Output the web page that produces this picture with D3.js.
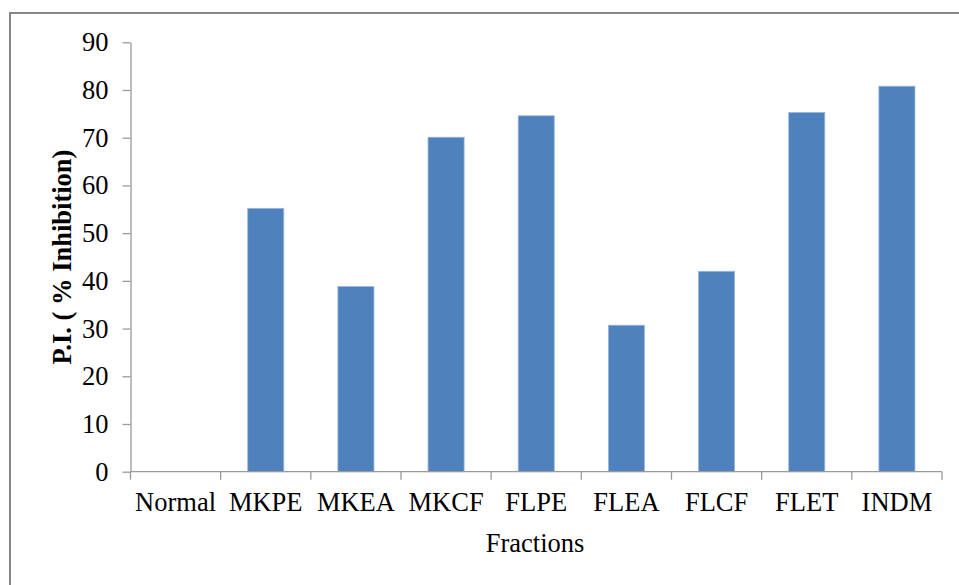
<!DOCTYPE html>
<html>
<head>
<meta charset="utf-8">
<script src="https://cdn.jsdelivr.net/npm/d3@7/dist/d3.min.js"></script>
<style>
  html, body { margin: 0; padding: 0; background: #fff; }
  svg { display: block; }
</style>
</head>
<body>
<script>
// Percentage inhibition by extract fraction
const categories = ["Normal", "MKPE", "MKEA", "MKCF", "FLPE", "FLEA", "FLCF", "FLET", "INDM"];
const inhibition = [0, 55.2, 38.8, 70.1, 74.6, 30.7, 42.0, 75.3, 80.8];
const yTicks = [0, 10, 20, 30, 40, 50, 60, 70, 80, 90];

const W = 959, H = 585;
const margin = { left: 130.5, right: 17, top: 42.3, bottom: 113.3 };

const svg = d3.select("body").append("svg")
  .attr("width", W).attr("height", H);

// outer frame
svg.append("rect")
  .attr("x", 10).attr("y", 13)
  .attr("width", W + 10).attr("height", H + 10)
  .attr("fill", "none").attr("stroke", "#868686").attr("stroke-width", 2);

const x = d3.scaleBand()
  .domain(categories)
  .range([margin.left, W - margin.right])
  .paddingInner(0.6).paddingOuter(0.3);

const y = d3.scaleLinear()
  .domain([0, 90])
  .range([H - margin.bottom, margin.top]);

const font = "'Liberation Serif', 'Times New Roman', serif";
const axisColor = "#9a9a9a";

// bars
svg.append("g").selectAll("rect")
  .data(categories.map((c, i) => ({ c, v: inhibition[i] })).filter(d => d.v > 0))
  .join("rect")
  .attr("x", d => x(d.c))
  .attr("y", d => y(d.v))
  .attr("width", x.bandwidth())
  .attr("height", d => y(0) - y(d.v))
  .attr("fill", "#4F81BD")
  .attr("stroke", "#9DB7DA")
  .attr("stroke-width", 0.8);

// y axis
const yAxis = svg.append("g")
  .attr("transform", `translate(${margin.left},0)`)
  .call(d3.axisLeft(y).tickValues(yTicks).tickSize(8).tickPadding(14).tickSizeOuter(0));
yAxis.select(".domain").attr("stroke", axisColor).attr("stroke-width", 1.3);
yAxis.selectAll(".tick line").attr("stroke", axisColor).attr("stroke-width", 1.3);
yAxis.selectAll(".tick text")
  .attr("font-family", font).attr("font-size", 26.5).attr("fill", "#000");

// x axis: baseline with ticks at band boundaries
const baseY = y(0);
const xg = svg.append("g");
xg.append("line")
  .attr("x1", margin.left).attr("x2", W - margin.right)
  .attr("y1", baseY).attr("y2", baseY)
  .attr("stroke", axisColor).attr("stroke-width", 1.3);
const bounds = d3.range(categories.length + 1).map(i => margin.left + i * (W - margin.right - margin.left) / categories.length);
xg.selectAll("line.tk").data(bounds).join("line")
  .attr("class", "tk")
  .attr("x1", d => d).attr("x2", d => d)
  .attr("y1", baseY).attr("y2", baseY + 8)
  .attr("stroke", axisColor).attr("stroke-width", 1.3);
xg.selectAll("text").data(categories).join("text")
  .attr("x", d => x(d) + x.bandwidth() / 2)
  .attr("y", 511)
  .attr("text-anchor", "middle")
  .attr("font-family", font).attr("font-size", 26.5)
  .text(d => d);

// axis titles
svg.append("text")
  .attr("x", 535).attr("y", 551.5)
  .attr("text-anchor", "middle")
  .attr("font-family", font).attr("font-size", 26.5)
  .text("Fractions");

svg.append("text")
  .attr("transform", `translate(71,257) rotate(-90)`)
  .attr("text-anchor", "middle")
  .attr("font-family", font).attr("font-size", 26.5).attr("font-weight", "bold")
  .text("P.I. ( % Inhibition)");
</script>
</body>
</html>
